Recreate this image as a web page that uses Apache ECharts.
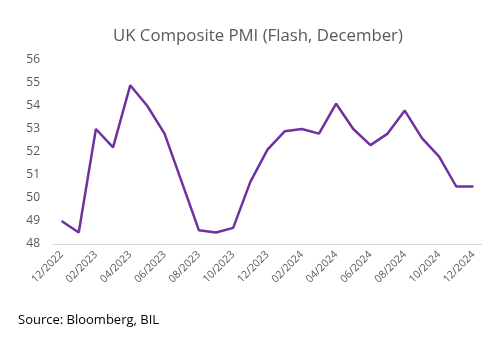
<!DOCTYPE html>
<html><head><meta charset="utf-8">
<script src="https://cdn.jsdelivr.net/npm/echarts@6/dist/echarts.min.js"></script>
<style>html,body{margin:0;padding:0;background:#fff}#c{width:500px;height:337px}</style>
</head><body><div id="c"></div>
<script>
const categories = ['12/2022','01/2023','02/2023','03/2023','04/2023','05/2023','06/2023','07/2023','08/2023','09/2023','10/2023','11/2023','12/2023','01/2024','02/2024','03/2024','04/2024','05/2024','06/2024','07/2024','08/2024','09/2024','10/2024','11/2024','12/2024'];
const pmiValues = [49.0,48.5,53.0,52.2,54.9,54.0,52.8,50.7,48.6,48.5,48.7,50.7,52.1,52.9,53.0,52.8,54.1,53.0,52.3,52.8,53.8,52.6,51.8,50.5,50.5];
const chartTitle = 'UK Composite PMI (Flash, December)';
const sourceText = 'Source: Bloomberg, BIL';
const FONT = 'Open Sans';
const chart = echarts.init(document.getElementById('c'));
chart.setOption({
  animation:false,
  title:{text:chartTitle,left:108,top:23,textStyle:{fontFamily:FONT,fontSize:16.8,fontWeight:'normal',color:'#595959'}},
  graphic:[{type:'text',left:18,top:314,style:{text:sourceText,font:'13px "Open Sans"',fill:'#000'}}],
  grid:{left:53,right:18,top:60,bottom:93},
  xAxis:{type:'category',data:categories,boundaryGap:true,
    axisLine:{lineStyle:{color:'#d9d9d9'}},
    axisTick:{interval:1,length:5,lineStyle:{color:'#d9d9d9'}},
    axisLabel:{interval:1,rotate:45,margin:9,color:'#595959',fontFamily:FONT,fontSize:10.5}},
  yAxis:{type:'value',min:48,max:56,interval:1,splitLine:{show:false},axisLine:{show:false},axisTick:{show:false},
    axisLabel:{color:'#595959',fontFamily:FONT,fontSize:12,margin:13}},
  series:[{type:'line',data:pmiValues,symbol:'none',lineStyle:{color:'#7030A0',width:2.5}}]
});
</script></body></html>
